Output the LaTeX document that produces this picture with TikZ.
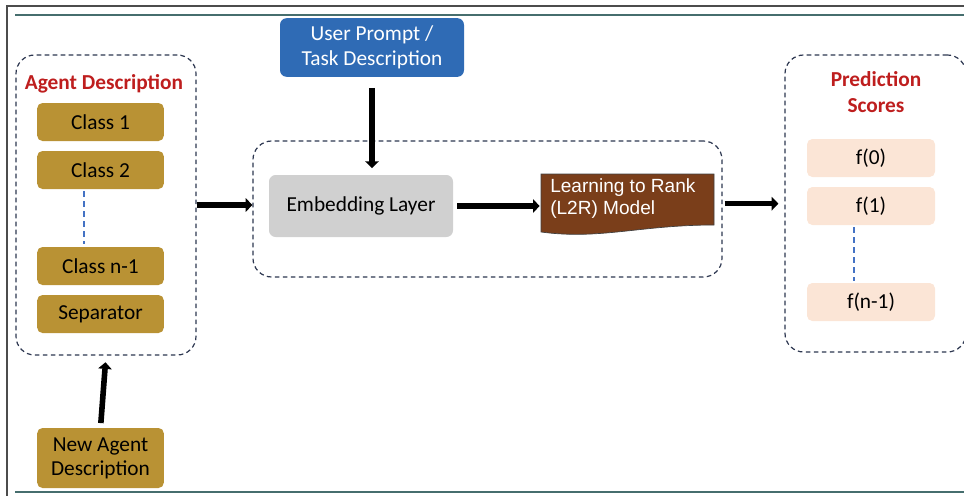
\documentclass[tikz,border=0pt]{standalone}
\usepackage{fontspec}
\setmainfont{Carlito}
\newfontfamily\arialfont{Liberation Sans}
\usetikzlibrary{arrows.meta, positioning}
\definecolor{goldbox}{RGB}{185,146,52}
\definecolor{bluebox}{RGB}{47,107,181}
\definecolor{graybox}{RGB}{208,208,208}
\definecolor{brownbox}{RGB}{122,62,26}
\definecolor{peachbox}{RGB}{251,229,214}
\definecolor{titlered}{RGB}{190,30,30}
\definecolor{dashnavy}{RGB}{45,55,80}
\definecolor{frameteal}{RGB}{70,110,110}
\definecolor{dotblue}{RGB}{68,114,196}

\begin{document}
\begin{tikzpicture}[x=0.75pt, y=-0.75pt,
		classbox/.style={fill=goldbox, rounded corners=4pt, minimum width=95pt, minimum height=28.5pt, inner sep=0pt, font=\fontsize{16}{18}\selectfont},
		scorebox/.style={fill=peachbox, rounded corners=4pt, minimum width=96pt, minimum height=28.5pt, inner sep=0pt, font=\fontsize{16}{18}\selectfont},
		group/.style={draw=dashnavy, dash pattern=on 3.5pt off 2.5pt, line width=0.9pt, rounded corners=14pt, inner sep=0pt},
		bigarrow/.style={line width=4.2pt, -{Triangle[length=5pt, width=10pt]}},
		grouptitle/.style={text=titlered, align=center, font=\bfseries\fontsize{16}{19}\selectfont},
		dots/.style={draw=dotblue, dash pattern=on 4.5pt off 3pt, line width=1.5pt}
	]
		\useasboundingbox (0,0) rectangle (964,496);
		\draw [black!70, line width=0.8pt] (964,6) -- (7,6) -- (7,496);
		\foreach \y in {15,492}{
			\draw [frameteal, line width=1pt] (15,\y) -- (964,\y);
		}
		
		% left group
		\node [group, minimum width=135pt, minimum height=225pt] (agents) at (106,205) {};
		\node [grouptitle] (agtitle) at (104,84) {Agent Description};
		\node [classbox] (c1) at (100.5,122) {Class 1};
		\node [classbox] (c2) at (100.5,170) {Class 2};
		\node [classbox] (cn) at (100.5,266) {Class n-1};
		\node [classbox] (sep) at (100.5,314) {Separator};
		\draw [dots] ([xshift=-12.5pt, yshift=-1.5pt]c2.south) -- ([xshift=-12.5pt, yshift=2pt]cn.north);
		\node [classbox, minimum height=45pt, align=center] (newagent) at (100.5,458) {New Agent\\Description};
		\draw [bigarrow, shorten <=3.5pt, shorten >=5pt] (newagent.north) -- (agents.south);
		
		% middle group
		\node [fill=bluebox, text=white, rounded corners=5pt, minimum width=138pt, minimum height=44pt, align=center, font=\fontsize{16}{19}\selectfont] (prompt) at (372,47.5) {User Prompt /\\Task Description};
		\node [group, minimum width=351.75pt, minimum height=102pt] (mid) at (487.5,209) {};
		\node [fill=graybox, rounded corners=5pt, minimum width=138pt, minimum height=46.5pt, font=\fontsize{16}{18}\selectfont] (emb) at (361,206) {Embedding Layer};
		\filldraw [fill=brownbox, draw=black!75, line width=0.5pt] (541,174) -- (714,174) -- (714,225) .. controls (640,225) and (600,240) .. (541,232) -- cycle;
		\node [anchor=north west, inner xsep=0pt, inner ysep=0pt, text=white, align=left, font=\arialfont\fontsize{14.3}{17}\selectfont] (l2r) at (550,178) {Learning to Rank\\(L2R) Model};
		\draw [bigarrow, shorten <=8pt, shorten >=5pt] (prompt.south) -- (prompt.south |- emb.north);
		\draw [bigarrow, shorten <=3pt, shorten >=1pt] (emb.east) -- (emb.east -| 541,0);
		\draw [bigarrow] (agents.east) -- (agents.east -| mid.west);
		
		% right group
		\node [group, minimum width=135.75pt, minimum height=222.75pt] (pred) at (875.5,203.5) {};
		\node [grouptitle] (predtitle) at (876,92) {Prediction\\Scores};
		\node [scorebox] (f0) at (871,158) {f(0)};
		\node [scorebox] (f1) at (871,206) {f(1)};
		\node [scorebox] (fn) at (871,302) {f(n-1)};
		\draw [dots] ([xshift=-12.75pt, yshift=-1.5pt]f1.south) -- ([xshift=-12.75pt, yshift=1.5pt]fn.north);
		\draw [bigarrow, shorten <=1.5pt, shorten >=4.5pt] ([yshift=4pt]mid.east) -- ([yshift=4pt]mid.east -| pred.west);
		
	\end{tikzpicture}
\end{document}
